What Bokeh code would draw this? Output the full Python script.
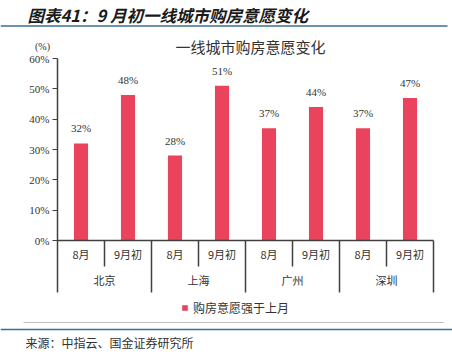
from bokeh.plotting import figure
from bokeh.models import (Range1d, LinearAxis, FixedTicker, PrintfTickFormatter, Label,
                          BoxAnnotation, Legend, LegendItem, ColumnDataSource)
from bokeh.core.properties import value
from bokeh.embed import file_html
from bokeh.resources import INLINE

# ---- data ----
cities = ["北京", "上海", "广州", "深圳"]
periods = ["8月", "9月初"]
values = [32, 48, 28, 51, 37, 44, 37, 47]
y_ticks = [0, 10, 20, 30, 40, 50, 60]
fig_title = "图表41：9 月初一线城市购房意愿变化"
chart_title = "一线城市购房意愿变化"
legend_label = "购房意愿强于上月"
source_note = "来源：中指云、国金证券研究所"
y_unit_label = "(%)"

# ---- layout constants ----
W, H = 452, 354
LEFT = 57            # canvas x of the y axis
SLOT = 47            # px per sub-category
Y0 = 240             # canvas y of 0%
PX = 182 / 60        # px per 1%

CJK = value("Noto Sans CJK SC")
SERIF = value("Liberation Serif")
TXT = "#333333"
AX = "#404040"
BAR = "#E9435E"
BLUE = "#3C6E91"

n = len(values)
x_start = -0.5 - LEFT / SLOT
x_range = Range1d(x_start, x_start + W / SLOT)
y_range = Range1d(-(H - Y0) / PX, 60 + (Y0 - 182) / PX)

p = figure(width=W, height=H, x_range=x_range, y_range=y_range,
           output_backend="svg", toolbar_location=None,
           x_axis_location=None, y_axis_location=None,
           min_border_left=0, min_border_right=0, min_border_top=0, min_border_bottom=0)
p.outline_line_color = None
p.grid.visible = False
p.background_fill_color = "white"
p.border_fill_color = "white"

inner_depth = 26 / PX
outer_depth = 52 / PX

# y axis, fixed at the left edge of the first category slot
yaxis = LinearAxis(ticker=FixedTicker(ticks=y_ticks),
                   formatter=PrintfTickFormatter(format="%d%%"),
                   bounds=(-outer_depth, 60), fixed_location=-0.5)
yaxis.axis_line_color = AX
yaxis.axis_line_width = 1.5
yaxis.major_tick_line_color = AX
yaxis.major_tick_line_width = 1.2
yaxis.major_tick_out = 5
yaxis.major_tick_in = 0
yaxis.minor_tick_line_color = None
yaxis.major_label_standoff = 3
yaxis.major_label_text_font = "Liberation Serif"
yaxis.major_label_text_font_size = "11px"
yaxis.major_label_text_color = TXT
p.add_layout(yaxis, "left")

# bars
xs = list(range(n))
src = ColumnDataSource(dict(x=xs, top=values, label=[f"{v}%" for v in values]))
bars = p.vbar(x="x", top="top", bottom=0, width=0.3, source=src,
              fill_color=BAR, line_color=None)
p.text(x="x", y="top", text="label", source=src, text_align="center",
       text_baseline="bottom", y_offset=-9, text_font=SERIF,
       text_font_size="11px", text_color=TXT)

# x axis line and separators
p.segment(x0=[-0.5], y0=[0], x1=[n - 0.5], y1=[0], line_color=AX, line_width=1.5)
inner_x = [2 * g + 0.5 for g in range(len(cities))]
p.segment(x0=inner_x, y0=[0] * len(inner_x), x1=inner_x, y1=[-inner_depth] * len(inner_x),
          line_color=AX, line_width=1.5)
outer_x = [2 * g + 1.5 for g in range(len(cities))]
p.segment(x0=outer_x, y0=[0] * len(outer_x), x1=outer_x, y1=[-outer_depth] * len(outer_x),
          line_color=AX, line_width=1.5)

# category labels
sub_labels = [periods[i % 2] for i in range(n)]
p.text(x=xs, y=[-13 / PX] * n, text=sub_labels, text_align="center", text_baseline="middle",
       text_font=CJK, text_font_size="11px", text_color=TXT)
grp_x = [2 * g + 0.5 for g in range(len(cities))]
p.text(x=grp_x, y=[-39 / PX] * len(cities), text=cities, text_align="center",
       text_baseline="middle", text_font=CJK, text_font_size="11px", text_color=TXT)

# legend (frame covers the whole canvas)
legend = Legend(items=[LegendItem(label=legend_label, renderers=[bars])],
                location=(181, 38), orientation="horizontal",
                glyph_width=7, glyph_height=7, label_standoff=5,
                label_text_font="Noto Sans CJK SC", label_text_font_size="12px",
                label_text_color=TXT, border_line_color=None,
                background_fill_alpha=0, padding=0, margin=0)
p.add_layout(legend)

# texts (screen units relative to frame == canvas: x from left, y from bottom)
def sy(y):
    return H - y

p.add_layout(Label(x=27, y=sy(14), x_units="screen", y_units="screen", text=fig_title,
                   text_baseline="middle", text_font="Noto Sans CJK SC",
                   text_font_size="16.5px", text_font_style="bold italic", text_color="#1a1a1a"))
p.add_layout(Label(x=250, y=sy(46), x_units="screen", y_units="screen", text=chart_title,
                   text_align="center", text_baseline="middle", text_font="Noto Sans CJK SC",
                   text_font_size="15px", text_color=TXT))
p.add_layout(Label(x=42, y=sy(46), x_units="screen", y_units="screen", text=y_unit_label,
                   text_align="center", text_baseline="middle", text_font="Liberation Serif",
                   text_font_size="10px", text_color=TXT))
p.add_layout(Label(x=25, y=sy(342), x_units="screen", y_units="screen", text=source_note,
                   text_baseline="middle", text_font="Noto Sans CJK SC",
                   text_font_size="12px", text_color=TXT))

# rules
def rule(x0, x1, yc, th, color):
    p.add_layout(BoxAnnotation(left=x0, right=x1, top=sy(yc - th / 2), bottom=sy(yc + th / 2),
                               left_units="screen", right_units="screen",
                               top_units="screen", bottom_units="screen",
                               fill_color=color, fill_alpha=1, line_color=None))

rule(0, 447, 25.5, 1.6, BLUE)
rule(23, 443, 322, 1.0, "#BFBFBF")
rule(0, 452, 329, 1.6, BLUE)

open("out.html", "w").write(file_html(p, INLINE))
